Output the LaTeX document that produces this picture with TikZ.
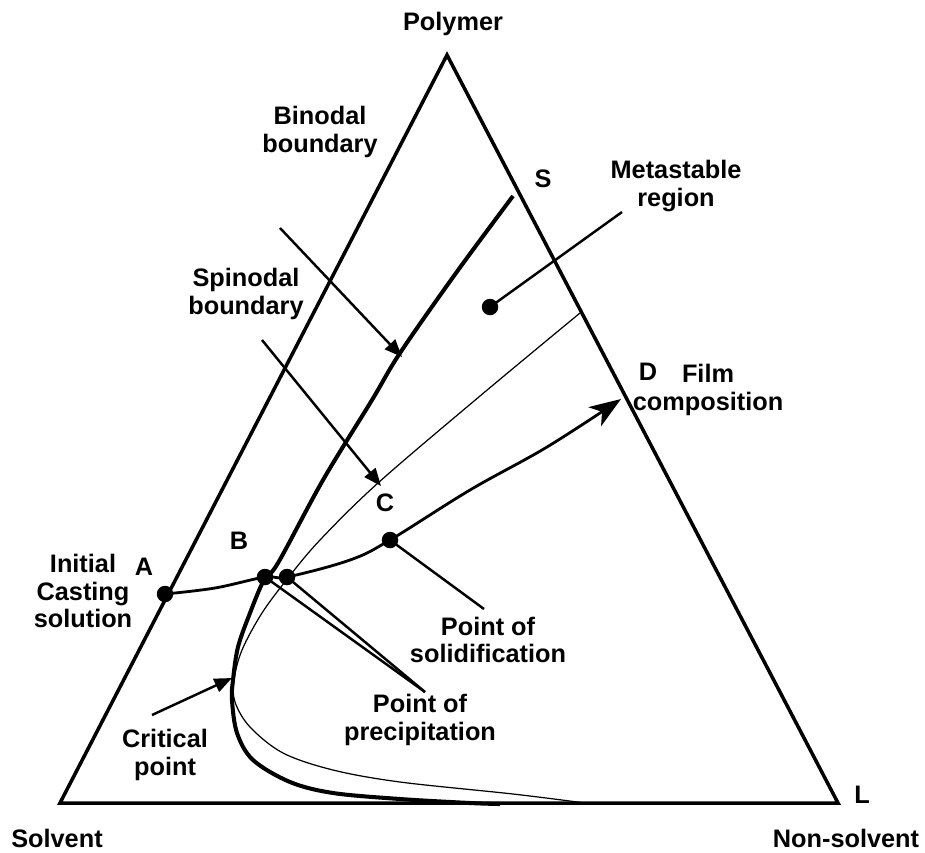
\documentclass[tikz,border=0pt]{standalone}
\usepackage{fontspec}
\setmainfont{Liberation Sans}
\usetikzlibrary{arrows.meta}
\tikzstyle{txt} = [font=\bfseries\fontsize{14.4}{15.5}\selectfont, align=center, inner sep=0pt]
\tikzstyle{dot} = [circle, fill=black, inner sep=0pt, minimum size=0.33cm]
\tikzstyle{edge} = [draw, line width=2pt, line join=miter]
\tikzstyle{binodal} = [draw, line width=2.3pt]
\tikzstyle{spinodal} = [draw, line width=0.7pt]
\tikzstyle{pointer} = [draw, line width=1.4pt, -{Triangle[length=10pt, width=8pt]}]
\tikzstyle{leader} = [draw, line width=1.4pt]

\begin{document}
\begin{tikzpicture}[x=0.02cm, y=-0.02cm]
	\useasboundingbox (0,0) rectangle (925,852);
	% corners of the triangle
	\coordinate (top) at (447,55);
	\coordinate (left) at (60,803);
	\coordinate (right) at (838,803);
	\path[edge] (top) -- (left) -- (right) -- cycle;
	
	\node[txt] (polymer) at (453,24) {Polymer};
	\node[txt] (solvent) at (57,838) {Solvent};
	\node[txt] (nonsolvent) at (846,838) {Non-solvent};
	\node[txt] (L) at (862,795) {L};
	\node[txt] (S) at (543,179) {S};
	\node[txt] (D) at (648,372) {D};
	\node[txt] (C) at (385,503) {C};
	\node[txt] (B) at (239,541) {B};
	\node[txt] (A) at (144,567) {A};
	
	% binodal and spinodal curves
	\path[binodal] plot[smooth, tension=0.55] coordinates {(513,196) (456,273) (400,353) (372,400) (323,480) (278,563) (264,580) (250,613) (238,647) (233,680) (232,700) (237,733) (253,760) (290,782) (333,793) (400,799) (470,803) (500,804)};
	\path[spinodal] plot[smooth, tension=0.55] coordinates {(580,313) (480,396) (378,483) (320,540) (288,578) (262,613) (242,650) (234,680) (235,702) (250,727) (283,753) (333,770) (400,782) (513,794) (585,803)};
	
	% composition path
	\node[dot] (start) at (165,594) {};
	\node[dot] (precip1) at (265,577) {};
	\node[dot] (precip2) at (287,577) {};
	\node[dot] (solid) at (390,540) {};
	\node[dot] (meta) at (490,307) {};
	\coordinate (film) at (621,399);
	\path[draw, line width=1.6pt, -{Stealth[length=18pt, width=13pt, inset=5pt]}] plot[smooth, tension=0.6] coordinates {(start.center) (215,588) (precip1.center) (precip2.center) (350,560) (solid.center) (470,490) (547,447) (film)};
	
	% labels with pointers
	\node[txt] (binlab) at (320,132) {Binodal\\boundary};
	\coordinate (binfrom) at (280,228);
	\coordinate (bintip) at (402,357);
	\path[pointer] (binfrom) -- (bintip);
	
	\node[txt] (spinlab) at (246,294) {Spinodal\\boundary};
	\coordinate (spinfrom) at (262,340);
	\coordinate (spintip) at (381,486);
	\path[pointer] (spinfrom) -- (spintip);
	
	\node[txt] (metalab) at (676,186) {Metastable\\region};
	\coordinate (metaend) at (622,212);
	\path[leader] (meta.center) -- (metaend);
	
	\node[txt] (filmlab) at (708,390) {Film\\composition};
	
	\node[txt] (castlab) at (83,591) {Initial\\Casting\\solution};
	
	\node[txt] (solidlab) at (488,640) {Point of\\solidification};
	\coordinate (solidend) at (484,609);
	\path[leader] (solid.center) -- (solidend);
	
	\node[txt] (preciplab) at (420,720) {Point of\\precipitation};
	\coordinate (precipend) at (425,692);
	\path[leader] (precip1.center) -- (precipend);
	\path[leader] (precip2.center) -- (precipend);
	
	\node[txt] (critlab) at (165,755) {Critical\\point};
	\coordinate (critfrom) at (152,715);
	\coordinate (crittip) at (232,678);
	\path[pointer] (critfrom) -- (crittip);
\end{tikzpicture}
\end{document}
